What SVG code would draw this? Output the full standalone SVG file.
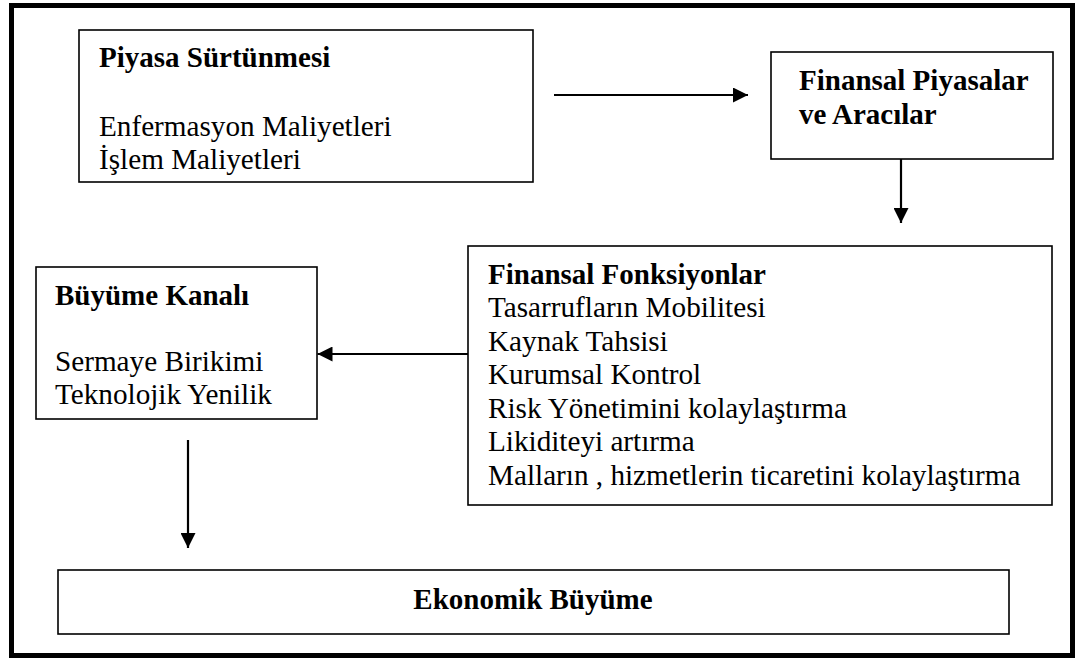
<svg xmlns="http://www.w3.org/2000/svg" width="1076" height="662" viewBox="0 0 1076 662">
<style>
.box{fill:#fff;stroke:#000;stroke-width:1.6}
.t{font-family:"Liberation Serif","Times New Roman",serif;font-size:29.2px;fill:#000}
.b{font-weight:bold;font-size:29px}
.c{stroke:#000;stroke-width:2.2;fill:none;marker-end:url(#ah)}
</style>
<defs>
<marker id="ah" markerUnits="userSpaceOnUse" markerWidth="15" markerHeight="15" refX="15" refY="7.5" orient="auto">
<path d="M0,0 L15,7.5 L0,15 Z" fill="#000"/>
</marker>
</defs>
<rect x="11.5" y="5.5" width="1061" height="650" fill="#fff" stroke="#000" stroke-width="5"/>
<g id="piyasa">
<rect class="box" x="79" y="30" width="454" height="152"/>
<text class="t b" x="99" y="66.5">Piyasa Sürtünmesi</text>
<text class="t" x="99" y="136">Enfermasyon Maliyetleri</text>
<text class="t" x="99" y="168.5">İşlem Maliyetleri</text>
</g>
<g id="finansal-piyasalar">
<rect class="box" x="771" y="52" width="282" height="107"/>
<text class="t b" x="799" y="90">Finansal Piyasalar</text>
<text class="t b" x="799" y="123.5">ve Aracılar</text>
</g>
<g id="finansal-fonksiyonlar">
<rect class="box" x="468" y="246" width="584" height="259"/>
<text class="t b" x="488" y="283.5">Finansal Fonksiyonlar</text>
<text class="t" x="488" y="317">Tasarrufların Mobilitesi</text>
<text class="t" x="488" y="350.5">Kaynak Tahsisi</text>
<text class="t" x="488" y="384">Kurumsal Kontrol</text>
<text class="t" x="488" y="417.5">Risk Yönetimini kolaylaştırma</text>
<text class="t" x="488" y="451">Likiditeyi artırma</text>
<text class="t" x="488" y="484.5">Malların , hizmetlerin ticaretini kolaylaştırma</text>
</g>
<g id="buyume-kanali">
<rect class="box" x="36" y="267" width="281" height="152"/>
<text class="t b" x="55" y="305">Büyüme Kanalı</text>
<text class="t" x="55" y="370.5">Sermaye Birikimi</text>
<text class="t" x="55" y="404">Teknolojik Yenilik</text>
</g>
<g id="ekonomik-buyume">
<rect class="box" x="58" y="570" width="951" height="64"/>
<text class="t b" x="533" y="608.5" text-anchor="middle">Ekonomik Büyüme</text>
</g>
<g id="connectors">
<line class="c" x1="554" y1="95" x2="748" y2="95"/>
<line class="c" x1="901" y1="159" x2="901" y2="223"/>
<line class="c" x1="468" y1="354" x2="317.5" y2="354"/>
<line class="c" x1="188" y1="440" x2="188" y2="548"/>
</g>
</svg>
